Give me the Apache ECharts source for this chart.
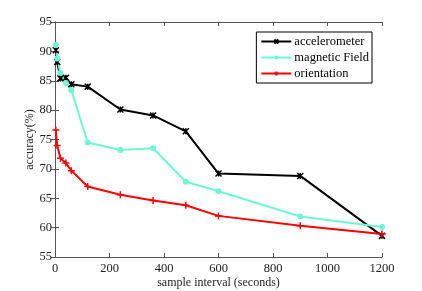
<!DOCTYPE html>
<html>
<head>
<meta charset="utf-8">
<script src="https://cdn.jsdelivr.net/npm/echarts@6/dist/echarts.min.js"></script>
<style>html,body{margin:0;padding:0;background:#fff;}#c{width:422px;height:291px;}</style>
</head>
<body>
<div id="c"></div>
<script>
const intervals = [3, 8, 20, 40, 60, 120, 240, 360, 480, 600, 900, 1200];
const accelerometer = [90.2, 88.2, 85.4, 85.5, 84.4, 84.0, 80.1, 79.1, 76.4, 69.2, 68.8, 58.6];
const magneticField = [91.1, 88.8, 86.3, 84.6, 83.4, 74.5, 73.2, 73.5, 67.8, 66.2, 61.9, 60.1];
const orientation = [76.6, 74.0, 71.8, 71.0, 69.7, 67.0, 65.6, 64.6, 63.8, 62.0, 60.3, 58.9];
const seriesNames = ['accelerometer', 'magnetic Field', 'orientation'];
const xTicks = [0, 200, 400, 600, 800, 1000, 1200];
const yTicks = [55, 60, 65, 70, 75, 80, 85, 90, 95];

const font = '"Liberation Serif", "DejaVu Serif", serif';
const axisColor = '#555';
const pair = arr => intervals.map((x, i) => [x, arr[i]]);

const chart = echarts.init(document.getElementById('c'), null, {renderer: 'canvas'});
const baseX = {
  type: 'value', min: 0, max: 1200, interval: 200,
  axisLine: {show: true, lineStyle: {color: axisColor, width: 1}},
  axisTick: {show: true, inside: true, length: 4, lineStyle: {color: axisColor}},
  splitLine: {show: false}
};
const baseY = {
  type: 'value', min: 55, max: 95, interval: 5,
  axisLine: {show: true, lineStyle: {color: axisColor, width: 1}},
  axisTick: {show: true, inside: true, length: 4, lineStyle: {color: axisColor}},
  splitLine: {show: false}
};
chart.setOption({
  animation: false,
  backgroundColor: '#fff',
  grid: {left: 55, right: 40, top: 22, bottom: 34, containLabel: false, outerBoundsMode: 'none'},
  legend: {
    right: 50, top: 32,
    orient: 'vertical',
    data: seriesNames,
    backgroundColor: '#fff',
    borderColor: '#000', borderWidth: 1,
    padding: [3, 3, 3, 4],
    itemGap: 3,
    itemWidth: 30, itemHeight: 5,
    textStyle: {fontFamily: font, fontSize: 12.5, color: '#000', padding: [0, 0, 0, -2]}
  },
  xAxis: [
    Object.assign({}, baseX, {
      position: 'bottom',
      name: 'sample interval (seconds)', nameLocation: 'middle', nameGap: 20,
      nameMoveOverlap: false,
      nameTextStyle: {fontFamily: font, fontSize: 12, color: '#222'},
      axisLabel: {fontFamily: font, fontSize: 12.5, color: '#222', margin: 5,
        formatter: v => xTicks.includes(v) ? String(v) : ''}
    }),
    Object.assign({}, baseX, {position: 'top', axisLabel: {show: false}})
  ],
  yAxis: [
    Object.assign({}, baseY, {
      position: 'left',
      name: 'accuracy(%)', nameLocation: 'middle', nameGap: 19,
      nameMoveOverlap: false,
      nameTextStyle: {fontFamily: font, fontSize: 12, color: '#222'},
      axisLabel: {fontFamily: font, fontSize: 12.5, color: '#222', margin: 3,
        formatter: v => yTicks.includes(v) ? String(v) : ''}
    }),
    Object.assign({}, baseY, {position: 'right', axisLabel: {show: false}})
  ],
  series: [
    {
      name: seriesNames[0], type: 'line', data: pair(accelerometer),
      symbol: 'path://M0,0L10,10M0,10L10,0M5,0L5,10', symbolSize: 6,
      lineStyle: {color: '#000', width: 2},
      itemStyle: {color: '#000', borderColor: '#000', borderWidth: 1.5}
    },
    {
      name: seriesNames[1], type: 'line', data: pair(magneticField),
      symbol: 'circle', symbolSize: 6,
      lineStyle: {color: '#72f5d4', width: 2},
      itemStyle: {color: '#72f5d4', borderWidth: 0}
    },
    {
      name: seriesNames[2], type: 'line', data: pair(orientation),
      symbol: 'path://M5,0L5,10M0,5L10,5', symbolSize: 7,
      lineStyle: {color: '#ff0000', width: 2},
      itemStyle: {color: '#ff0000', borderColor: '#ff0000', borderWidth: 1.5}
    }
  ]
});
</script>
</body>
</html>
